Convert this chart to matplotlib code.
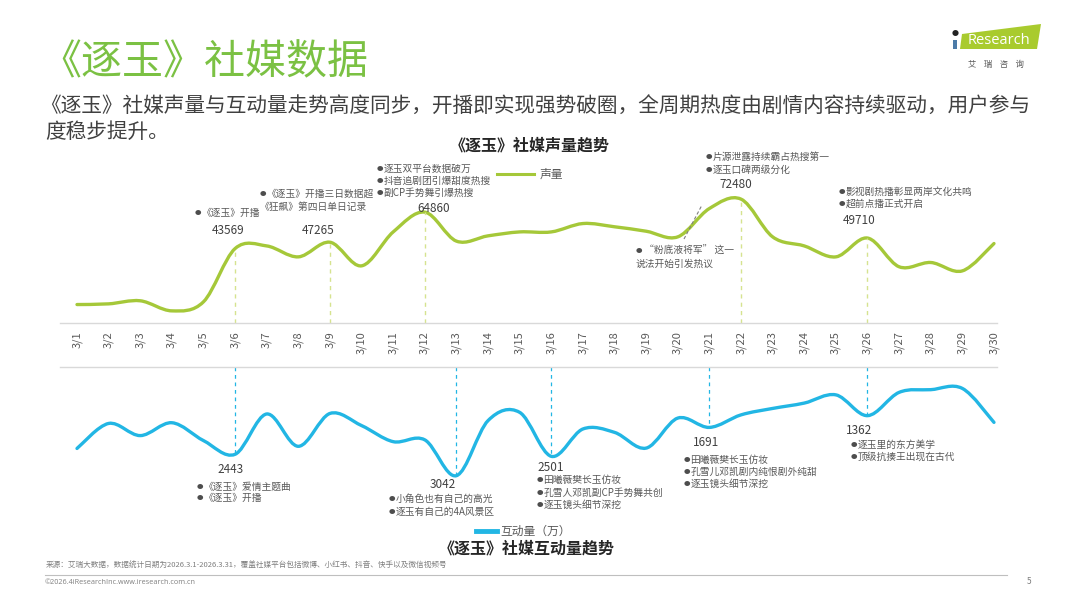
import matplotlib
matplotlib.use("Agg")
import matplotlib.pyplot as plt
import numpy as np
from matplotlib.path import Path
from matplotlib.patches import PathPatch, Polygon
from matplotlib.lines import Line2D

plt.rcParams['font.family'] = ['Noto Sans CJK SC', 'DejaVu Sans']

# ---------------- data ----------------
dates = [f"3/{d}" for d in range(1, 31)]
volume = [10800, 11200, 13000, 7100, 12400, 43569, 45100, 38700, 47265, 33450,
          53300, 64860, 47900, 51000, 53300, 53300, 58200, 56300, 53700, 50400,
          67000, 72480, 50400, 45100, 38700, 49710, 32900, 35400, 30500, 46500]
interact = [2280, 1580, 1920, 1560, 2060, 2443, 1315, 2220, 1300, 1640,
            2090, 2040, 3042, 1500, 1270, 2501, 1735, 1830, 2270, 1430,
            1691, 1340, 1160, 1010, 780, 1362, 710, 635, 600, 1550]
vol_marks = [5, 8, 11, 21, 25]          # indices of annotated volume points
int_marks = [5, 12, 15, 20, 25]         # indices of annotated interaction points

GREEN = '#A5C839'
TITLE_GREEN = '#7BC143'
CYAN = '#22B6E4'
DARK = '#404040'
GREY = '#595959'

W, H = 1067, 600
fig = plt.figure(figsize=(W / 100, H / 100), dpi=100)


def P(x, y):
    return (x / W, 1 - y / H)


def smooth_path(xs, ys):
    xs = np.asarray(xs, float)
    ys = np.asarray(ys, float)
    n = len(xs)
    verts = [(xs[0], ys[0])]
    codes = [Path.MOVETO]
    for i in range(n - 1):
        i0 = max(i - 1, 0)
        i3 = min(i + 2, n - 1)
        c1 = (xs[i] + (xs[i + 1] - xs[i0]) / 6, ys[i] + (ys[i + 1] - ys[i0]) / 6)
        c2 = (xs[i + 1] - (xs[i3] - xs[i]) / 6, ys[i + 1] - (ys[i3] - ys[i]) / 6)
        verts += [c1, c2, (xs[i + 1], ys[i + 1])]
        codes += [Path.CURVE4] * 3
    return Path(verts, codes)


x = np.arange(len(dates))
xl = (-17 / 31.62, (997 - 77) / 31.62)

# ---------------- top chart ----------------
ax1 = fig.add_axes([60 / W, 1 - 323 / H, (997 - 60) / W, (323 - 152.1) / H])
ax1.set_xlim(*xl)
ax1.set_ylim(0, 100000)
for s in ['top', 'right', 'left']:
    ax1.spines[s].set_visible(False)
ax1.spines['bottom'].set_color('#D9D9D9')
ax1.spines['bottom'].set_linewidth(1)
ax1.set_yticks([])
ax1.set_xticks(x)
ax1.set_xticklabels(dates, rotation=90, fontsize=8, color=GREY)
ax1.tick_params(axis='x', length=0, pad=6)
ax1.add_patch(PathPatch(smooth_path(x, volume), fill=False, ec=GREEN, lw=2.4,
                        capstyle='round', joinstyle='round'))
for i in vol_marks:
    ax1.vlines(x[i], 0, volume[i], colors='#D6E38F', linestyles=(0, (3, 3)), lw=1)
ax1.patch.set_alpha(0)

# ---------------- bottom chart ----------------
ax2 = fig.add_axes([60 / W, 1 - 509.9 / H, (997 - 60) / W, (509.9 - 367) / H])
ax2.set_xlim(*xl)
ax2.set_ylim(4000, 0)
for s in ['bottom', 'right', 'left']:
    ax2.spines[s].set_visible(False)
ax2.spines['top'].set_color('#D9D9D9')
ax2.spines['top'].set_linewidth(1)
ax2.set_xticks([])
ax2.set_yticks([])
ax2.add_patch(PathPatch(smooth_path(x, interact), fill=False, ec=CYAN, lw=2.4,
                        capstyle='round', joinstyle='round'))
for i in int_marks:
    ax2.vlines(x[i], 0, interact[i], colors=CYAN, linestyles=(0, (3, 3)), lw=0.9)
ax2.patch.set_alpha(0)

# ---------------- header ----------------
fig.text(*P(40, 63), "《逐玉》社媒数据", fontsize=29.5, color=TITLE_GREEN, va='center', ha='left')
fig.text(*P(40, 107), "《逐玉》社媒声量与互动量走势高度同步，开播即实现强势破圈，全周期热度由剧情内容持续驱动，用户参与",
         fontsize=14.9, color=DARK, va='center', ha='left')
fig.text(*P(45, 132), "度稳步提升。", fontsize=14.9, color=DARK, va='center', ha='left')

# logo
fig.patches.append(Polygon([P(962, 34), P(1041, 24), P(1037, 49), P(960, 49)], closed=True,
                           transform=fig.transFigure, fc='#A9CB2E', ec='none'))
fig.patches.append(Polygon([P(953, 40), P(957, 40), P(957, 49), P(953, 49)], closed=True,
                           transform=fig.transFigure, fc='#4C7BA8', ec='none'))
fig.text(*P(955, 34), "●", fontsize=5, color='#222222', ha='center', va='center')
fig.text(*P(999, 41), "Research", fontsize=10.5, color='white', ha='center', va='center',
         family=['Open Sans', 'DejaVu Sans'])
fig.text(*P(996, 64), "艾    瑞    咨    询", fontsize=6, color=GREY, ha='center', va='center')

# ---------------- chart titles & legends ----------------
fig.text(*P(530, 145), "《逐玉》社媒声量趋势", fontsize=11.5, fontweight='bold', color='#262626',
         ha='center', va='center')
fig.add_artist(Line2D([497 / W, 534 / W], [1 - 174 / H] * 2, color=GREEN, lw=2.2))
fig.text(*P(540, 174), "声量", fontsize=8.5, color=GREY, va='center', ha='left')

fig.add_artist(Line2D([476 / W, 497 / W], [1 - 531 / H] * 2, color=CYAN, lw=3.5))
fig.text(*P(500, 531), "互动量（万）", fontsize=8.5, color=GREY, va='center', ha='left')
fig.text(*P(527, 549), "《逐玉》社媒互动量趋势", fontsize=11.5, fontweight='bold', color='#262626',
         ha='center', va='center')

# ---------------- annotations ----------------
AF = 7
NF = 8.5
B = "●"


def lines(xp, ys, texts, fs=AF, color=GREY):
    for yp, t in zip(ys, texts):
        if t.startswith(B):
            fig.text(*P(xp + 2.5, yp + 0.3), B, fontsize=4.6, color='#4D4D4D',
                     va='center', ha='center')
            fig.text(*P(xp + 6.5, yp), t[1:], fontsize=fs, color=color, va='center', ha='left')
        else:
            fig.text(*P(xp, yp), t, fontsize=fs, color=color, va='center', ha='left')


lines(195, [213], [B + "《逐玉》开播"])
fig.text(*P(228, 231), f"{volume[5]}", fontsize=NF, color=DARK, ha='center', va='center')
lines(260, [194], [B + "《逐玉》开播三日数据超"])
lines(260, [206.5], ["《狂飙》第四日单日记录"])
fig.text(*P(318, 230), f"{volume[8]}", fontsize=NF, color=DARK, ha='center', va='center')
lines(377, [168.5, 180.5, 192.5], [B + "逐玉双平台数据破万", B + "抖音追剧团引爆甜度热搜", B + "副CP手势舞引爆热搜"])
fig.text(*P(417, 208.5), f"{volume[11]}", fontsize=NF, color=DARK, ha='left', va='center')
lines(706, [157, 170], [B + "片源泄露持续霸占热搜第一", B + "逐玉口碑两级分化"])
fig.text(*P(736, 184), f"{volume[21]}", fontsize=NF, color=DARK, ha='center', va='center')
lines(839, [192, 203.5], [B + "影视剧热播彰显两岸文化共鸣", B + "超前点播正式开启"])
fig.text(*P(843, 220), f"{volume[25]}", fontsize=NF, color=DARK, ha='left', va='center')
lines(636, [251, 263.5], [B + " “粉底液将军” 这一", "说法开始引发热议"])
fig.add_artist(Line2D([684 / W, 702 / W], [1 - 239 / H, 1 - 205 / H], color='#7F7F7F',
                      lw=0.8, ls=(0, (3, 2))))

fig.text(*P(217, 469.5), f"{interact[5]}", fontsize=NF, color=DARK, ha='left', va='center')
lines(197, [486.5, 498], [B + "《逐玉》爱情主题曲", B + "《逐玉》开播"])
fig.text(*P(430, 485), f"{interact[12]}", fontsize=NF, color=DARK, ha='left', va='center')
lines(389, [499, 511.5], [B + "小角色也有自己的高光", B + "逐玉有自己的4A风景区"])
fig.text(*P(537, 467.5), f"{interact[15]}", fontsize=NF, color=DARK, ha='left', va='center')
lines(537, [480, 492.5, 504.5], [B + "田曦薇樊长玉仿妆", B + "孔雪人邓凯副CP手势舞共创", B + "逐玉镜头细节深挖"])
fig.text(*P(693, 442), f"{interact[20]}", fontsize=NF, color=DARK, ha='left', va='center')
lines(684, [459.5, 471.5, 484], [B + "田曦薇樊长玉仿妆", B + "孔雪儿邓凯剧内纯恨剧外纯甜", B + "逐玉镜头细节深挖"])
fig.text(*P(846, 431), f"{interact[25]}", fontsize=NF, color=DARK, ha='left', va='center')
lines(851, [444.5, 457], [B + "逐玉里的东方美学", B + "顶级抗揍王出现在古代"])

# ---------------- footer ----------------
fig.text(*P(46, 566), "来源：艾瑞大数据，数据统计日期为2026.3.1-2026.3.31，覆盖社媒平台包括微博、小红书、抖音、快手以及微信视频号",
         fontsize=5.5, color='#7F7F7F', va='center', ha='left')
fig.add_artist(Line2D([45 / W, 1007 / W], [1 - 575 / H] * 2, color='#BFBFBF', lw=0.8))
fig.text(*P(45, 582), "©2026.4iResearchInc.www.iresearch.com.cn", fontsize=5.2, color='#7F7F7F',
         va='center', ha='left', family=['Open Sans', 'DejaVu Sans'])
fig.text(*P(1029, 581), "5", fontsize=6, color='#7F7F7F', va='center', ha='center')

fig.savefig("out.png", dpi=100, facecolor='white')
